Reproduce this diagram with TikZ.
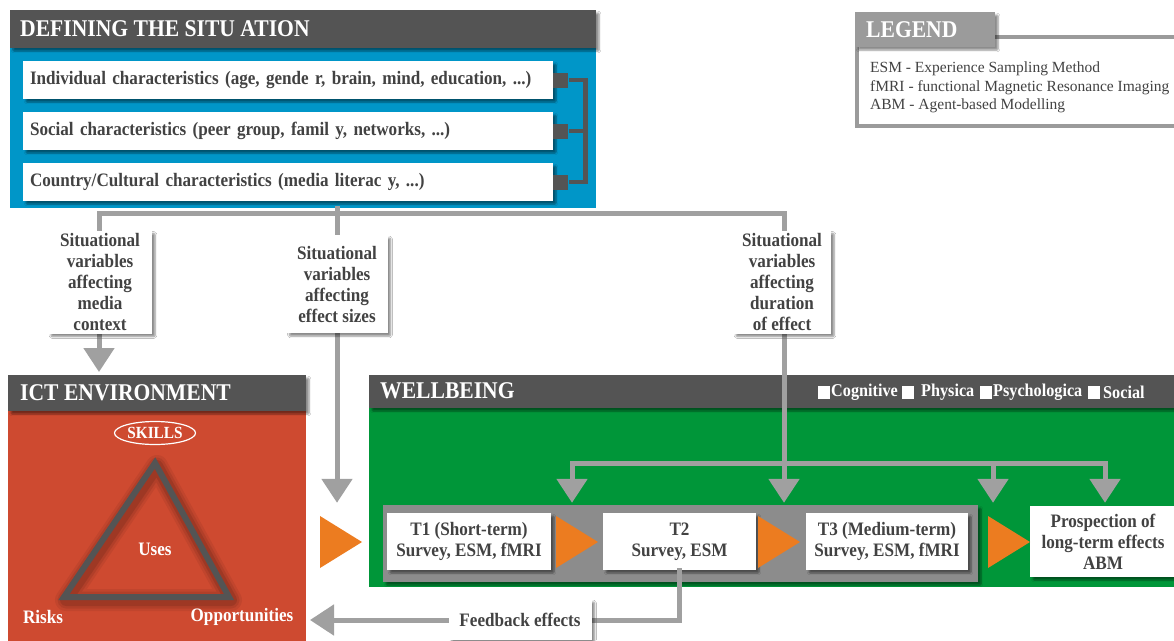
\documentclass[tikz,border=0pt]{standalone}
\usepackage{fontspec}
\setmainfont{Liberation Serif}
\newfontfamily\condfont{Liberation Serif}[FakeStretch=0.9]
\usetikzlibrary{arrows.meta,shadows.blur,shapes.geometric}
\definecolor{headgray}{RGB}{84,84,84}
\definecolor{situblue}{RGB}{0,150,200}
\definecolor{ictred}{RGB}{206,74,48}
\definecolor{wbgreen}{RGB}{0,150,57}
\definecolor{flowor}{RGB}{236,124,32}
\definecolor{conngray}{RGB}{160,160,160}
\definecolor{txtgray}{RGB}{66,66,66}
\definecolor{bandgray}{RGB}{140,140,140}
\definecolor{leggray}{RGB}{155,155,155}
\def\headfont{\condfont\bfseries\fontsize{24}{26}\selectfont}
\def\bodyfont{\condfont\bfseries\fontsize{19}{21}\selectfont}
\def\skillfont{\condfont\bfseries\fontsize{17}{19}\selectfont}
\def\catfont{\condfont\bfseries\fontsize{18}{20}\selectfont}
\def\legfont{\fontsize{15.5}{18.5}\selectfont}
\def\flowtri(#1,#2){\fill[color=flowor] (#1,#2) -- ++(42,26) -- ++(-42,26) -- cycle;}

\begin{document}
\begin{tikzpicture}[x=1pt, y=-1pt,
	panel/.style={anchor=north west, inner sep=0pt, outer sep=0pt},
	softshadow/.style={blur shadow={shadow blur steps=6, shadow blur extra rounding=1pt, shadow xshift=3pt, shadow yshift=-3pt, shadow opacity=45}},
	headtext/.style={anchor=west, inner sep=0pt, text=white, font=\headfont},
	rowbox/.style={fill=white, softshadow, inner xsep=7pt, inner ysep=0pt, minimum height=38pt, text width=516pt, align=left, text=txtgray, font=\bodyfont},
	tag/.style={rectangle, fill=headgray, inner sep=0pt, minimum width=15pt, minimum height=15pt, anchor=west},
	bracket/.style={line width=4.5pt, color=headgray},
	varbox/.style={fill=white, softshadow, inner sep=0pt, align=center, text=txtgray, font=\bodyfont},
	stepbox/.style={varbox, minimum height=57pt},
	conn/.style={line width=5pt, color=conngray, line cap=rect},
	bigtip/.style={-{Triangle[width=30pt,length=24pt]}},
	icttext/.style={text=white, font=\bodyfont, inner sep=0pt},
	cattext/.style={anchor=west, inner sep=0pt, text=white, font=\catfont},
]
	%%%%% START %%%%%
	\useasboundingbox (0,0) rectangle (1174,640);
	\fill[white] (0,0) rectangle (1174,640);

	% defining the situation
	\node[panel, fill=situblue, minimum width=586pt, minimum height=198pt] (situation) at (10,10) {};
	\fill[headgray, softshadow] (10,10) rectangle (596,48);
	\node[headtext] (sittitle) at (20,29) {DEFINING THE SITU ATION};

	\node[rowbox] (indiv) at (288,80) {Individual characteristics (age, gende r, brain, mind, education, ...)};
	\node[rowbox] (social) at (288,131) {Social characteristics (peer group, famil y, networks, ...)};
	\node[rowbox] (country) at (288,182) {Country/Cultural characteristics (media literac y, ...)};
	\node[tag] (tagindiv) at (indiv.east) {};
	\node[tag] (tagsocial) at (social.east) {};
	\node[tag] (tagcountry) at (country.east) {};
	\draw[bracket] (tagindiv.east) -- ++(17,0) |- (tagcountry.east);
	\draw[bracket] (tagsocial.east) -- ++(17,0);

	% legend
	\draw[line width=4pt, color=leggray] (857,37) rectangle (1190,126);
	\fill[leggray, softshadow] (855,12) rectangle (995,47);
	\node[headtext] (legtitle) at (866,30) {LEGEND};
	\node[anchor=north west, align=left, inner sep=0pt, text=txtgray, font=\legfont] (legtext) at (870,62) {ESM - Experience Sampling Method\\fMRI - functional Magnetic Resonance Imaging\\ABM - Agent-based Modelling};

	% ict environment
	\node[panel, fill=ictred, minimum width=298pt, minimum height=270pt] (ict) at (8,375) {};
	\fill[headgray, softshadow] (8,375) rectangle (306,411);
	\node[headtext] (icttitle) at (20,393) {ICT ENVIRONMENT};
	\foreach \w/\op in {22/0.06, 17/0.08, 12/0.1}
		\draw[line width=\w pt, color=black, opacity=\op, line join=round] (157,466) -- (231,600) -- (66,600) -- cycle;
	\draw[line width=6pt, color=headgray, line join=miter] (155,463) -- (229,597) -- (64,597) -- cycle;
	\node[draw=white, line width=1.2pt, ellipse, inner xsep=1pt, inner ysep=0pt, minimum width=74pt, minimum height=23pt, text=white, font=\skillfont] (skills) at (155,433) {SKILLS};
	\node[icttext] (uses) at (155,549) {Uses};
	\node[icttext] (risks) at (43,617) {Risks};
	\node[icttext] (opps) at (242,617) {Opportunities};

	% wellbeing
	\node[panel, fill=wbgreen, minimum width=810pt, minimum height=212pt] (wellbeing) at (369,375) {};
	\fill[headgray, softshadow] (369,375) rectangle (1180,408);
	\node[headtext] (wbtitle) at (380,391) {WELLBEING};
	\foreach \sx/\tx/\word in {818/831/Cognitive, 902/921/Physica, 980/993/Psychologica, 1088/1103/Social} {
		\node[cattext] at (\tx,392) {\word};
		\fill[white] (\sx,386) rectangle ++(12,13);
	}

	\node[fill=bandgray, softshadow, inner sep=0pt, minimum width=595pt, minimum height=77pt] (band) at (680.5,543.5) {};
	\node[stepbox, minimum width=164pt] (t1) at (469,541.5) {T1 (Short-term)\\Survey, ESM, fMRI};
	\node[stepbox, minimum width=153pt] (t2) at (679.5,541.5) {T2\\Survey, ESM};
	\node[stepbox, minimum width=162pt] (t3) at (887,541.5) {T3 (Medium-term)\\Survey, ESM, fMRI};
	\node[varbox, minimum width=146pt, minimum height=71pt] (prospect) at (1103,541.5) {Prospection of\\long-term effects\\ABM};
	\flowtri(320,516)
	\flowtri(556,516)
	\flowtri(758,516)
	\flowtri(988,516)

	% connectors
	\coordinate (busL) at (99,213);
	\coordinate (busM) at (337,213);
	\coordinate (busR) at (784,213);
	\draw[conn] (busM |- situation.south) -- (busM);
	\draw[conn] (busL) -- (busR);
	\draw[conn, bigtip, shorten >=3pt] (busL) -- (busL |- ict.north);
	\draw[conn, bigtip, shorten >=2pt] (busM) -- (busM |- band.north);
	\draw[conn, bigtip, shorten >=2pt] (busR) -- (busR |- band.north);

	\coordinate (fanL) at (572,463);
	\coordinate (fanC) at (993,463);
	\coordinate (fanR) at (1105,463);
	\draw[conn] (fanL) -- (fanR);
	\foreach \f in {fanL,fanC} \draw[conn, bigtip, shorten >=2pt] (\f) -- (\f |- band.north);
	\draw[conn, bigtip, shorten >=3pt] (fanR) -- (fanR |- prospect.north);

	\coordinate (fbrow) at (0,620);
	\draw[conn, bigtip, shorten >=4pt] (t2.south) |- (ict.east |- fbrow);

	% labels on the connectors
	\node[varbox, minimum width=104pt, minimum height=103pt] (mediactx) at (100,282) {Situational\\variables\\affecting\\media\\context};
	\node[varbox, minimum width=101pt, minimum height=98pt] (effsize) at (337,284) {Situational\\variables\\affecting\\effect sizes};
	\node[varbox, minimum width=98pt, minimum height=103pt] (duration) at (782,282) {Situational\\variables\\affecting\\duration\\of effect};
	\node[varbox, minimum width=143pt, minimum height=41pt] (feedback) at (520,619.5) {Feedback effects};
	%%%%% END %%%%%
\end{tikzpicture}
\end{document}
